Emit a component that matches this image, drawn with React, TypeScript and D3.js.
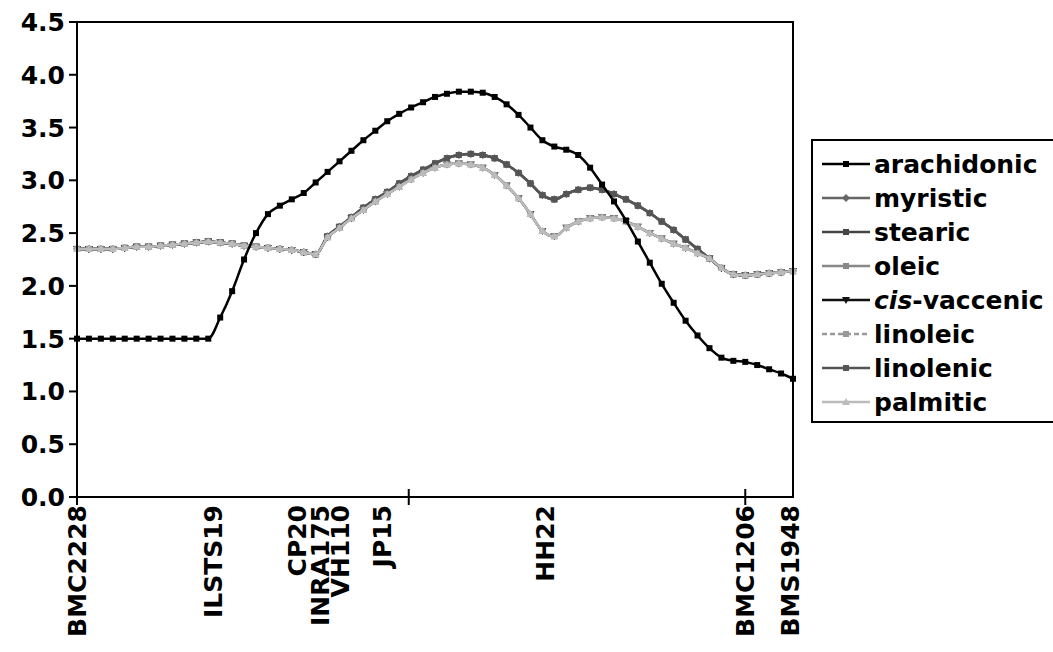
import * as d3 from 'd3';

// map position in cM, one sample every 2 cM
const positions = d3.range(0, 121, 2);

const arachidonic = [
  1.5, 1.5, 1.5, 1.5, 1.5, 1.5, 1.5, 1.5, 1.5, 1.5, 1.5, 1.5,
  1.7, 1.95, 2.25, 2.5, 2.68, 2.76, 2.82, 2.88, 2.98, 3.08, 3.18, 3.28, 3.38, 3.47,
  3.56, 3.63, 3.69, 3.74, 3.79, 3.82, 3.84, 3.84, 3.83, 3.79, 3.72, 3.62, 3.5, 3.38,
  3.32, 3.29, 3.24, 3.12, 2.96, 2.8, 2.62, 2.42, 2.22, 2.02, 1.84, 1.67, 1.53, 1.41,
  1.32, 1.29, 1.28, 1.25, 1.21, 1.17, 1.12,
];

const upper = [
  2.35, 2.35, 2.35, 2.35, 2.36, 2.37, 2.37, 2.38, 2.39, 2.4, 2.41, 2.42, 2.41, 2.4,
  2.38, 2.37, 2.36, 2.35, 2.34, 2.32, 2.3, 2.47, 2.56, 2.65, 2.74, 2.82, 2.89, 2.97,
  3.04, 3.1, 3.16, 3.21, 3.24, 3.25, 3.24, 3.21, 3.15, 3.07, 2.97, 2.86, 2.82, 2.87,
  2.91, 2.93, 2.91, 2.87, 2.82, 2.76, 2.69, 2.61, 2.53, 2.44, 2.35, 2.26, 2.17, 2.11,
  2.1, 2.11, 2.12, 2.13, 2.14,
];

const lower = [
  2.35, 2.35, 2.35, 2.35, 2.36, 2.37, 2.37, 2.38, 2.39, 2.4, 2.41, 2.42, 2.41, 2.4,
  2.38, 2.37, 2.36, 2.35, 2.34, 2.32, 2.3, 2.46, 2.55, 2.64, 2.72, 2.8, 2.87, 2.94,
  3.01, 3.07, 3.12, 3.15, 3.16, 3.15, 3.12, 3.05, 2.95, 2.83, 2.68, 2.52, 2.47, 2.55,
  2.61, 2.64, 2.65, 2.64, 2.61, 2.56, 2.5, 2.45, 2.4, 2.36, 2.31, 2.26, 2.17, 2.11,
  2.1, 2.11, 2.12, 2.13, 2.14,
];

const markers = [
  { name: 'BMC2228', pos: 0 },
  { name: 'ILSTS19', pos: 22.8 },
  { name: 'CP20', pos: 36.9 },
  { name: 'INRA175', pos: 40.7 },
  { name: 'VH110', pos: 44.1 },
  { name: 'JP15', pos: 51.1 },
  { name: 'HH22', pos: 78.4 },
  { name: 'BMC1206', pos: 112 },
  { name: 'BMS1948', pos: 119.5 },
];
const xTicks = [55.6, 112];
const yTicks = d3.range(0, 4.51, 0.5);

type Shape = 'square' | 'diamond' | 'circle' | 'triangle' | 'tri-down';
const series: { name: string; values: number[]; color: string; shape: Shape; dash?: string }[] = [
  { name: 'myristic', values: upper, color: '#666', shape: 'diamond' },
  { name: 'stearic', values: upper, color: '#444', shape: 'square' },
  { name: 'oleic', values: upper, color: '#888', shape: 'square' },
  { name: 'linolenic', values: upper, color: '#555', shape: 'square' },
  { name: 'cis-vaccenic', values: lower, color: '#111', shape: 'tri-down' },
  { name: 'linoleic', values: lower, color: '#999', shape: 'square', dash: '5,3' },
  { name: 'palmitic', values: lower, color: '#bbb', shape: 'triangle' },
  { name: 'arachidonic', values: arachidonic, color: '#000', shape: 'square' },
];
const legendOrder = ['arachidonic', 'myristic', 'stearic', 'oleic', 'cis-vaccenic', 'linoleic', 'linolenic', 'palmitic'];

const m = { left: 77, top: 22, right: 793, bottom: 497 };
const x = d3.scaleLinear().domain([0, 120]).range([m.left, m.right]);
const y = d3.scaleLinear().domain([0, 4.5]).range([m.bottom, m.top]);
const font = '"DejaVu Sans", Arial, sans-serif';
const fs = 25;

function Marker({ cx, cy, shape, color, s = 3 }: { cx: number; cy: number; shape: Shape; color: string; s?: number }) {
  if (shape === 'circle') return <circle cx={cx} cy={cy} r={s} fill={color} />;
  if (shape === 'diamond')
    return <path d={`M${cx},${cy - s - 1}L${cx + s + 1},${cy}L${cx},${cy + s + 1}L${cx - s - 1},${cy}Z`} fill={color} />;
  if (shape === 'triangle')
    return <path d={`M${cx},${cy - s - 1}L${cx + s + 1},${cy + s}L${cx - s - 1},${cy + s}Z`} fill={color} />;
  if (shape === 'tri-down')
    return <path d={`M${cx},${cy + s + 1}L${cx + s + 1},${cy - s}L${cx - s - 1},${cy - s}Z`} fill={color} />;
  return <rect x={cx - s} y={cy - s} width={s * 2} height={s * 2} fill={color} />;
}

export default function App() {
  const line = d3.line<number>().x((_, i) => x(positions[i])).y(d => y(d)).curve(d3.curveMonotoneX);
  return (
    <svg width={1053} height={652} style={{ position: 'absolute', left: 0, top: 0, background: '#fff' }} fontFamily={font}>
      {series.map(s => (
        <g key={s.name}>
          <path d={line(s.values) || ''} fill="none" stroke={s.color} strokeWidth={2.5} strokeDasharray={s.dash} />
          {s.values.map((v, i) => (
            <Marker key={i} cx={x(positions[i])} cy={y(v)} shape={s.shape} color={s.color} />
          ))}
        </g>
      ))}
      <rect x={m.left} y={m.top} width={m.right - m.left} height={m.bottom - m.top} fill="none" stroke="#000" strokeWidth={2} />
      {yTicks.map(t => (
        <g key={t}>
          <line x1={m.left - 8} x2={m.left} y1={y(t)} y2={y(t)} stroke="#000" strokeWidth={2} />
          <text x={m.left - 12} y={y(t)} dy="0.36em" textAnchor="end" fontSize={fs} fontWeight="bold">
            {t.toFixed(1)}
          </text>
        </g>
      ))}
      {xTicks.map(t => (
        <line key={t} x1={x(t)} x2={x(t)} y1={m.bottom - 8} y2={m.bottom + 8} stroke="#000" strokeWidth={2} />
      ))}
      <line x1={m.left} x2={m.left} y1={m.bottom} y2={m.bottom + 8} stroke="#000" strokeWidth={2} />
      {markers.map(mk => (
        <text
          key={mk.name}
          transform={`translate(${x(mk.pos) + 9},${m.bottom + 8}) rotate(-90)`}
          textAnchor="end"
          fontSize={fs}
          fontWeight="bold"
        >
          {mk.name}
        </text>
      ))}
      <rect x={812} y={140} width={260} height={282} fill="#fff" stroke="#000" strokeWidth={2} />
      {legendOrder.map((name, i) => {
        const s = series.find(d => d.name === name)!;
        const ly = 164 + i * 34;
        return (
          <g key={name}>
            <line x1={822} x2={870} y1={ly} y2={ly} stroke={s.color} strokeWidth={2.5} strokeDasharray={s.dash} />
            <Marker cx={846} cy={ly} shape={s.shape} color={s.color} />
            <text x={874} y={ly} dy="0.36em" fontSize={fs} fontWeight="bold">
              {name === 'cis-vaccenic' ? (
                <>
                  <tspan fontStyle="italic">cis</tspan>-vaccenic
                </>
              ) : (
                name
              )}
            </text>
          </g>
        );
      })}
    </svg>
  );
}
